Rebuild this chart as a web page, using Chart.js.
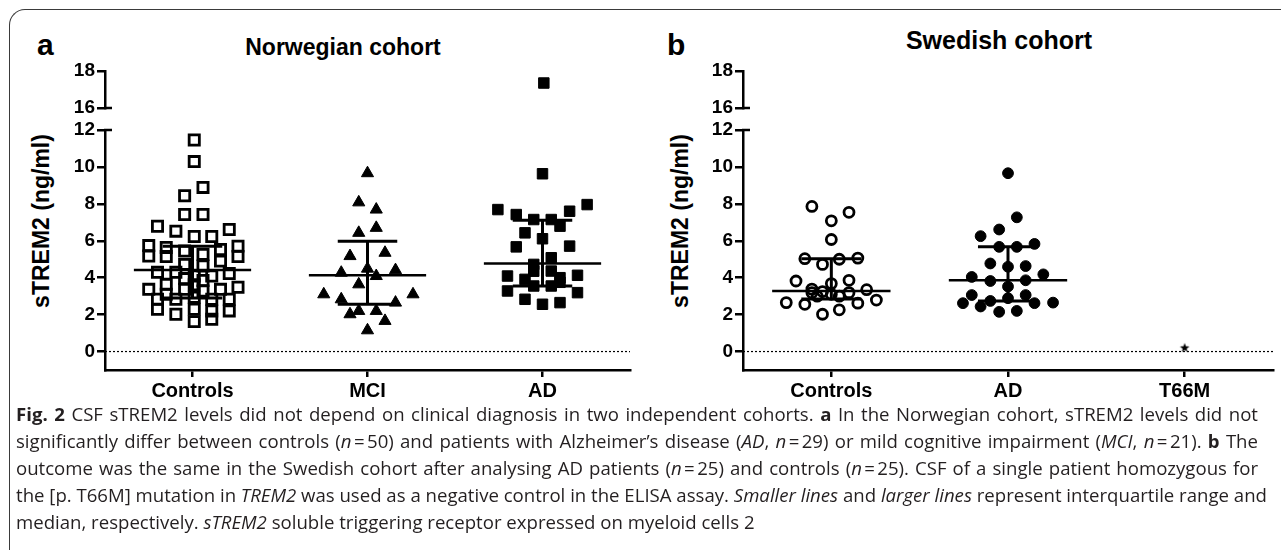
<!DOCTYPE html>
<html><head><meta charset="utf-8">
<script src="https://cdn.jsdelivr.net/npm/chart.js@4"></script>
<style>
html,body{margin:0;padding:0;background:#fff;width:1281px;height:550px;overflow:hidden;position:relative}
#frame{position:absolute;left:9px;top:9px;width:1320px;height:600px;border-top:1.5px solid #3a3a3a;border-left:1.5px solid #3a3a3a;border-top-left-radius:16px;box-sizing:border-box}
canvas{position:absolute}
.lbl{position:absolute;font-family:'Liberation Sans',Arial,sans-serif;font-weight:bold;color:#000;white-space:nowrap;line-height:1}
.ctr{transform:translateX(-50%)}
.ytitle{position:absolute;font-family:'Liberation Sans',Arial,sans-serif;font-weight:bold;font-size:23px;line-height:1;white-space:nowrap;transform:translate(-50%,-50%) rotate(-90deg)}
.cap{position:absolute;left:16px;width:1242px;font-family:'Open Sans',Lato,sans-serif;font-size:18.6px;color:#231f20;line-height:27px;height:27px;overflow:visible;white-space:nowrap}
.just{text-align:justify;text-align-last:justify}
</style></head>
<body>
<div id="frame"></div>
<div class="lbl" style="left:37px;top:30px;font-size:30px">a</div>
<div class="lbl ctr" style="left:343px;top:36px;font-size:23px">Norwegian cohort</div>
<div class="lbl" style="left:667px;top:30px;font-size:30px">b</div>
<div class="lbl ctr" style="left:999px;top:28px;font-size:25px">Swedish cohort</div>
<div class="ytitle" style="left:41px;top:221px">sTREM2 (ng/ml)</div>
<div class="ytitle" style="left:680px;top:221px">sTREM2 (ng/ml)</div>
<canvas id="aTop" width="640" height="75" style="left:0;top:50px"></canvas>
<canvas id="aBot" width="640" height="300" style="left:0;top:110px"></canvas>
<canvas id="bTop" width="641" height="75" style="left:640px;top:50px"></canvas>
<canvas id="bBot" width="641" height="300" style="left:640px;top:110px"></canvas>

<div class="cap just" style="top:399.5px"><b>Fig. 2</b> CSF sTREM2 levels did not depend on clinical diagnosis in two independent cohorts. <b>a</b> In the Norwegian cohort, sTREM2 levels did not</div>
<div class="cap just" style="top:426.5px">significantly differ between controls (<i>n</i>&#8239;=&#8239;50) and patients with Alzheimer’s disease (<i>AD</i>, <i>n</i>&#8239;=&#8239;29) or mild cognitive impairment (<i>MCI</i>, <i>n</i>&#8239;=&#8239;21). <b>b</b> The</div>
<div class="cap just" style="top:453.5px">outcome was the same in the Swedish cohort after analysing AD patients (<i>n</i>&#8239;=&#8239;25) and controls (<i>n</i>&#8239;=&#8239;25). CSF of a single patient homozygous for</div>
<div class="cap just" style="top:480.5px">the [p. T66M] mutation in <i>TREM2</i> was used as a negative control in the ELISA assay. <i>Smaller lines</i> and <i>larger lines</i> represent interquartile range and</div>
<div class="cap" style="top:507.5px">median, respectively. <i>sTREM2</i> soluble triggering receptor expressed on myeloid cells 2</div>

<script>
// ---------------- data ----------------
const categoriesA = ['Controls', 'MCI', 'AD'];
const categoriesB = ['Controls', 'AD', 'T66M'];
const yTicksLower = [0, 2, 4, 6, 8, 10, 12];
const yTicksUpper = [16, 18];

// Panel a (Norwegian cohort): horizontal jitter (category units) and sTREM2 (ng/ml)
const aControlsOffset = [0.01,0.01,0.06,-0.045,-0.045,0.06,-0.2,-0.095,0.21,0.01,0.11,-0.25,0.26,-0.15,-0.25,-0.15,-0.045,0.06,0.16,0.26,0.16,-0.045,0.06,-0.2,-0.095,0.21,0.01,0.11,-0.25,-0.15,0.26,-0.15,-0.045,0.06,0.16,-0.2,-0.095,0.01,0.11,0.21,-0.2,0.21,-0.095,0.01,0.11,0.01,0.11,0.01,0.06,-0.045];
const aControlsValue  = [11.46,10.29,8.89,8.44,7.42,7.42,6.79,6.52,6.61,6.23,6.23,5.74,5.71,5.64,5.17,5.15,5.44,5.26,5.53,5.15,4.90,4.72,4.63,4.29,4.29,4.23,4.09,4.09,3.37,3.64,3.48,3.10,3.37,3.28,3.37,2.83,2.83,2.94,2.83,2.83,2.29,2.20,2.02,2.29,2.20,1.62,1.75,3.62,3.85,3.95];
const aMciOffset = [0,-0.05,0.05,-0.05,0.05,-0.1,0.1,-0.15,0,0.16,0.05,-0.05,-0.25,0.26,-0.15,0.16,-0.1,-0.05,0.05,0.1,0];
const aMciValue  = [9.66,8.08,7.69,6.43,6.70,5.17,5.35,4.27,4.49,4.41,4.09,3.64,3.10,3.10,2.83,2.65,2.02,2.20,2.20,1.66,1.15];
const aAdOffset = [0,0,-0.255,0.255,-0.15,0.155,-0.05,0.05,0.1,-0.1,0,-0.15,0.155,0.05,-0.05,-0.2,0.2,0.1,-0.1,0.05,-0.2,0.2,-0.05,0.05,-0.1,0,0.1,-0.05,0.1];
const aAdValue  = [17.35,9.63,7.69,7.96,7.42,7.60,7.15,7.15,6.79,6.43,6.11,5.67,5.71,5.08,4.72,4.09,4.13,4.00,3.91,4.36,3.28,3.19,3.55,3.55,2.83,2.56,2.65,4.35,3.75];
const aMedian = [4.42, 4.13, 4.77];
const aQ1 = [2.90, 2.56, 3.55];
const aQ3 = [5.70, 5.98, 7.11];

// Panel b (Swedish cohort)
const bControlsOffset = [-0.11,0.10,0,0,-0.15,-0.05,0.045,0.15,-0.2,0,0.10,0.2,-0.255,-0.15,-0.05,0.045,0.15,0.255,0,-0.11,0.10,-0.08,-0.11,-0.05,0.045];
const bControlsValue  = [7.86,7.54,7.08,6.07,5.03,4.72,5.00,5.06,3.82,3.68,3.86,3.35,2.65,2.56,2.02,2.26,2.62,2.79,3.10,3.19,3.19,3.00,3.38,3.25,3.00];
const bAdOffset = [0,0.05,-0.05,-0.155,-0.05,0.05,0.15,-0.1,0,0.1,0.2,-0.205,-0.1,0.1,0,-0.205,0.1,0,-0.255,-0.155,-0.1,0.15,0.255,-0.05,0.05];
const bAdValue  = [9.66,7.27,6.61,6.25,5.67,5.67,5.83,4.77,4.59,4.63,4.18,4.04,3.82,3.86,3.52,3.06,3.06,2.89,2.62,2.44,2.74,2.62,2.65,2.15,2.20];
const bT66mOffset = [0];
const bT66mValue  = [0.22];
const bMedian = [3.28, 3.86];
const bQ1 = [2.85, 2.74];
const bQ3 = [5.03, 5.67];

// ---------------- drawing ----------------
Chart.defaults.font.family = "'Liberation Sans', Arial, sans-serif";
const MED_HALF = 0.335, IQR_HALF = 0.17, BREAK_LOW = 12;

function pts(cat, offs, vals, upper) {
  return vals.map((v, i) => ({x: cat + 1 + offs[i], y: v}))
             .filter(p => upper ? p.y > BREAK_LOW : p.y <= BREAK_LOW);
}
function seg(data, w) {
  return {data, showLine: true, pointRadius: 0, borderColor: '#000', borderWidth: w, borderCapStyle: 'butt', order: 0};
}
function summary(med, q1, q3) {
  const ds = [];
  med.forEach((m, i) => {
    const c = i + 1;
    ds.push(seg([{x: c - MED_HALF, y: m}, {x: c + MED_HALF, y: m}], 2.6));
    ds.push(seg([{x: c - IQR_HALF, y: q3[i]}, {x: c + IQR_HALF, y: q3[i]}], 3));
    ds.push(seg([{x: c - IQR_HALF, y: q1[i]}, {x: c + IQR_HALF, y: q1[i]}], 3));
    ds.push(seg([{x: c, y: q1[i]}, {x: c, y: q3[i]}], 3));
  });
  return ds;
}
function zeroLine() {
  return {data: [{x: 0.5, y: 0}, {x: 3.5, y: 0}], showLine: true, pointRadius: 0, borderColor: '#000', borderWidth: 1.2, borderDash: [2, 2], order: 2};
}
function marker(data, style, r, fill, bw) {
  return {data, pointStyle: style, pointRadius: r, pointBackgroundColor: fill ? '#000' : 'rgba(0,0,0,0)', pointBorderColor: '#000', pointBorderWidth: bw, showLine: false, order: 1};
}
function starImage(r) {
  const c = document.createElement('canvas');
  const s = Math.ceil(2 * r + 2);
  c.width = c.height = s;
  const g = c.getContext('2d');
  g.fillStyle = '#000';
  g.beginPath();
  for (let i = 0; i < 10; i++) {
    const rr = i % 2 ? r * 0.42 : r;
    const a = -Math.PI / 2 + i * Math.PI / 5;
    g.lineTo(s / 2 + rr * Math.cos(a), s / 2 + rr * Math.sin(a) + 0.5);
  }
  g.closePath();
  g.fill();
  return c;
}
const axisCap = {
  id: 'axisCap',
  afterDraw(chart, args, opts) {
    const s = chart.scales.y, ctx = chart.ctx;
    ctx.save();
    ctx.strokeStyle = '#000';
    ctx.lineWidth = 2.5;
    ctx.beginPath();
    if (opts.top) { ctx.moveTo(s.right - 1, s.top); ctx.lineTo(s.right + 7, s.top); }
    if (opts.bottom) { ctx.moveTo(s.right - 1, s.bottom); ctx.lineTo(s.right + 7, s.bottom); }
    ctx.stroke();
    ctx.restore();
  }
};
function makeChart(id, datasets, cfg) {
  return new Chart(document.getElementById(id), {
    type: 'scatter',
    data: {datasets},
    options: {
      responsive: false, animation: false, events: [],
      layout: {padding: {top: cfg.padTop, bottom: cfg.padBottom, left: 0, right: cfg.padRight}},
      plugins: {legend: {display: false}, tooltip: {enabled: false}, axisCap: {top: cfg.capTop, bottom: cfg.capBottom}},
      scales: {
        x: {
          type: 'linear', min: 0.5, max: 3.5, display: cfg.showX,
          afterBuildTicks: s => { s.ticks = [1, 2, 3].map(v => ({value: v})); },
          afterFit: s => { s.height = cfg.showX ? 40 : 0; },
          ticks: {callback: v => cfg.cats[Math.round(v) - 1], font: {size: 20, weight: 'bold'}, color: '#000', padding: 2, maxRotation: 0, autoSkip: false},
          grid: {drawOnChartArea: false, drawTicks: true, tickLength: 7, color: '#000', lineWidth: 2.5},
          border: {display: true, color: '#000', width: 2.5}
        },
        y: {
          type: 'linear', min: cfg.ymin, max: cfg.ymax,
          afterBuildTicks: s => { s.ticks = cfg.yticks.map(v => ({value: v})); },
          afterFit: s => { s.width = cfg.yWidth; },
          ticks: {font: {size: 19, weight: 'bold'}, color: '#000', padding: 2, autoSkip: false},
          grid: {drawOnChartArea: false, drawTicks: true, tickLength: 8, color: '#000', lineWidth: 2.5},
          border: {display: true, color: '#000', width: 2.5}
        }
      }
    },
    plugins: [axisCap]
  });
}

function panelA(upper) {
  const ds = [];
  if (!upper) ds.push(...summary(aMedian, aQ1, aQ3), zeroLine());
  ds.push(marker(pts(0, aControlsOffset, aControlsValue, upper), 'rect', 7.2, false, 2.8));
  ds.push(marker(pts(1, aMciOffset, aMciValue, upper), 'triangle', 7, true, 1));
  ds.push(marker(pts(2, aAdOffset, aAdValue, upper), 'rect', 7.4, true, 1));
  return ds;
}
function panelB(upper) {
  const ds = [];
  if (!upper) ds.push(...summary(bMedian, bQ1, bQ3), zeroLine());
  ds.push(marker(pts(0, bControlsOffset, bControlsValue, upper), 'circle', 5, false, 2.8));
  ds.push(marker(pts(1, bAdOffset, bAdValue, upper), 'circle', 5.4, true, 1));
  ds.push(marker(pts(2, bT66mOffset, bT66mValue, upper), starImage(5), 5, true, 0));
  return ds;
}

makeChart('aTop', panelA(true), {cats: categoriesA, showX: false, ymin: 16, ymax: 18, yticks: yTicksUpper, yWidth: 105, padTop: 21, padBottom: 17, padRight: 4, capBottom: true});
makeChart('aBot', panelA(false), {cats: categoriesA, showX: true, ymin: -1, ymax: 12, yticks: yTicksLower, yWidth: 105, padTop: 20, padBottom: 0, padRight: 4, capTop: true});
makeChart('bTop', panelB(true), {cats: categoriesB, showX: false, ymin: 16, ymax: 18, yticks: yTicksUpper, yWidth: 103, padTop: 21, padBottom: 17, padRight: 8, capBottom: true});
makeChart('bBot', panelB(false), {cats: categoriesB, showX: true, ymin: -1, ymax: 12, yticks: yTicksLower, yWidth: 103, padTop: 20, padBottom: 0, padRight: 8, capTop: true});
</script>
</body></html>
